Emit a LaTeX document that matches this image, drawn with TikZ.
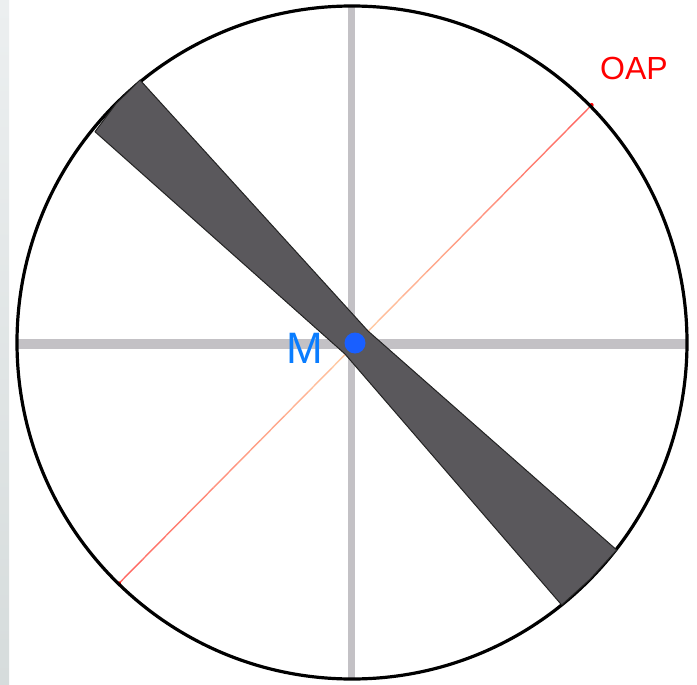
\documentclass[tikz,border=0pt]{standalone}
\usepackage{fontspec}
\setmainfont{Liberation Sans}
\usetikzlibrary{calc}
\definecolor{axisgray}{RGB}{195,193,197}
\definecolor{barfill}{RGB}{90,88,92}
\definecolor{baredge}{RGB}{35,35,35}
\definecolor{oapred}{RGB}{255,100,95}
\definecolor{oappeach}{RGB}{255,205,165}
\definecolor{dotblue}{RGB}{25,95,255}
\definecolor{mblue}{RGB}{10,125,255}
\definecolor{stripA}{RGB}{236,239,240}
\definecolor{stripB}{RGB}{214,220,220}
\tikzset{
  axisline/.style={draw=axisgray},
  oapline/.style={line width=1.4pt},
  barshape/.style={fill=barfill, draw=baredge, line width=1pt, line join=round},
  rim/.style={draw=black, line width=3.2pt},
  lbl/.style={inner sep=0pt, anchor=center},
}
\begin{document}
\begin{tikzpicture}[x=1pt,y=-1pt]
\useasboundingbox (0,0) rectangle (697,685);
\fill[white] (0,0) rectangle (697,685);
\shade[top color=stripA, bottom color=stripB] (0,0) rectangle (9,685);
\coordinate (C) at (352,342.5);
% axes
\coordinate (hL) at (17,344);
\coordinate (hR) at (686,344);
\coordinate (vT) at (351.5,6);
\coordinate (vB) at (351.5,679);
\draw[axisline, line width=9.5pt] (hL) -- (hR);
\draw[axisline, line width=7pt] (vT) -- (vB);
% OAP diameter (colour fades towards the centre)
\coordinate (oapA) at (119,583.3);
\coordinate (oapB) at (591.7,105);
\foreach \i in {0,...,19}{
  \pgfmathsetmacro{\t}{100*abs(\i+0.5-10)/10}
  \pgfmathsetmacro{\s}{\i/20}
  \pgfmathsetmacro{\e}{(\i+1)/20}
  \draw[oapline, draw=oapred!\t!oappeach, line cap=butt] ($(oapA)!\s!(oapB)$) -- ($(oapA)!\e!(oapB)$);
}
\fill[red] (oapA) circle (2) (oapB) circle (2);
% rim
\draw[rim] (C) ellipse [x radius=335, y radius=336.5];
% bar (double wedge)
\draw[barshape] (140,80) -- (368,331) -- (616.7,550) -- (590,579.3) -- (561.7,605)
  -- (345,354) -- (95,131.7) -- (116.1,103.6) -- cycle;
% centre
\fill[dotblue] (355,343) circle (10.5);
\node[lbl, text=mblue, font=\fontsize{44}{44}\selectfont] (m) at (305,348) {M};
\node[lbl, text=red, font=\fontsize{32}{32}\selectfont] (oap) at (634,68) {OAP};
\end{tikzpicture}
\end{document}
